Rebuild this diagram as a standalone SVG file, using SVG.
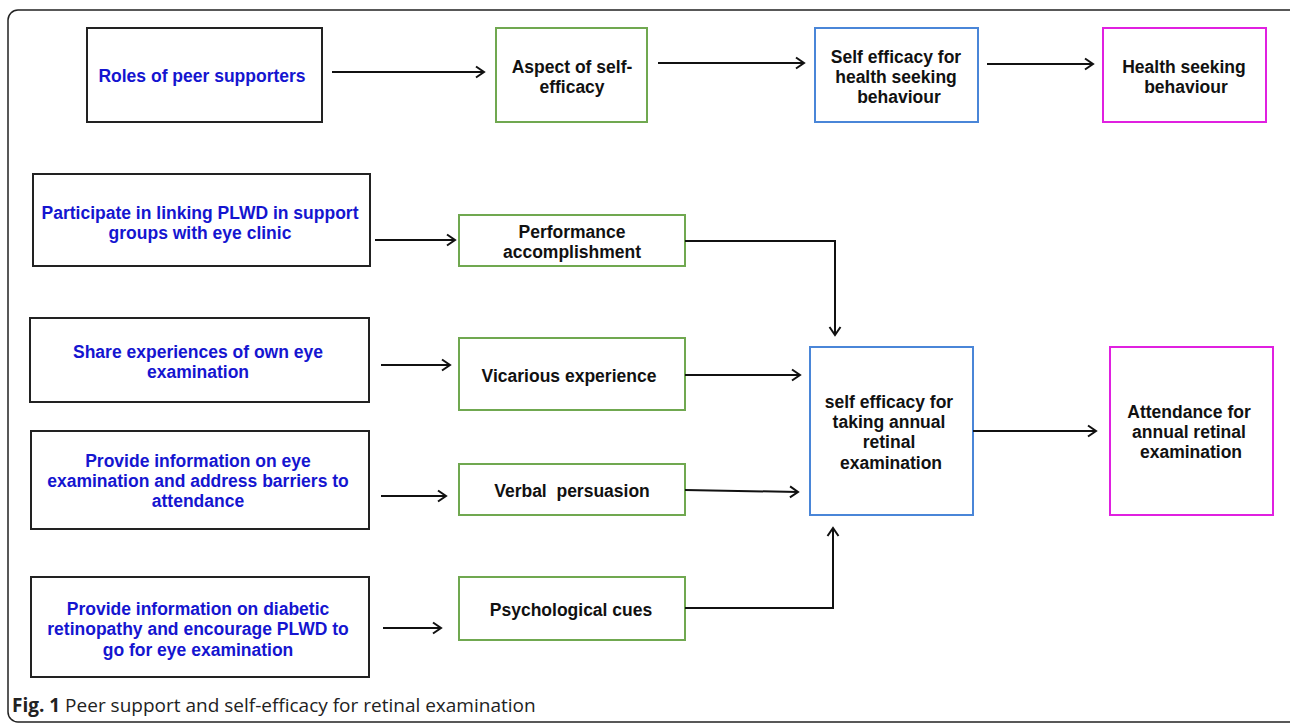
<svg xmlns="http://www.w3.org/2000/svg" width="1290" height="724" viewBox="0 0 1290 724">
<style>
.box{fill:#fff;stroke-width:2}
.k{stroke:#222}
.g{stroke:#70a850}
.b{stroke:#4a86d8}
.m{stroke:#e020e0}
text{font-family:"Liberation Sans",Arial,sans-serif;font-weight:bold;font-size:17.5px;text-anchor:middle}
.blue{fill:#1515d0}
.blk{fill:#111}
.con{fill:none;stroke:#111;stroke-width:2}
.cap{font-family:"Open Sans","Liberation Sans",sans-serif;font-weight:normal;font-size:19px;text-anchor:start;fill:#222}
</style>
<defs>
<marker id="ah" markerWidth="14" markerHeight="14" refX="11" refY="7" orient="auto" markerUnits="userSpaceOnUse">
<path d="M3,1.5 L11,7 L3,12.5" fill="none" stroke="#111" stroke-width="2"/>
</marker>
</defs>
<rect x="8" y="10" width="1300" height="712" rx="10" fill="#fff" stroke="#222" stroke-width="1.5"/>
<g id="n-roles"><rect class="box k" x="87" y="28" width="235" height="94"/><text class="blue" x="202" y="82">Roles of peer supporters</text></g>
<g id="n-aspect"><rect class="box g" x="496" y="28" width="151" height="94"/><text class="blk" x="572" y="73">Aspect of self-</text><text class="blk" x="572" y="93">efficacy</text></g>
<g id="n-sehsb"><rect class="box b" x="815" y="28" width="163" height="94"/><text class="blk" x="896" y="63">Self efficacy for</text><text class="blk" x="896" y="83">health seeking</text><text class="blk" x="899" y="103">behaviour</text></g>
<g id="n-hsb"><rect class="box m" x="1103" y="28" width="163" height="94"/><text class="blk" x="1184" y="73">Health seeking</text><text class="blk" x="1186" y="93">behaviour</text></g>

<g id="n-participate"><rect class="box k" x="33" y="174" width="337" height="92"/><text class="blue" x="200" y="219">Participate in linking PLWD in support</text><text class="blue" x="200" y="239">groups with eye clinic</text></g>
<g id="n-share"><rect class="box k" x="30" y="318" width="339" height="84"/><text class="blue" x="198" y="358">Share experiences of own eye</text><text class="blue" x="198" y="378">examination</text></g>
<g id="n-provide1"><rect class="box k" x="31" y="431" width="338" height="98"/><text class="blue" x="198" y="467">Provide information on eye</text><text class="blue" x="198" y="487">examination and address barriers to</text><text class="blue" x="198" y="507">attendance</text></g>
<g id="n-provide2"><rect class="box k" x="31" y="577" width="338" height="100"/><text class="blue" x="198" y="615">Provide information on diabetic</text><text class="blue" x="198" y="635">retinopathy and encourage PLWD to</text><text class="blue" x="198" y="656">go for eye examination</text></g>

<g id="n-perf"><rect class="box g" x="459" y="215" width="226" height="51"/><text class="blk" x="572" y="238">Performance</text><text class="blk" x="572" y="258">accomplishment</text></g>
<g id="n-vic"><rect class="box g" x="459" y="338" width="226" height="72"/><text class="blk" x="569" y="382">Vicarious experience</text></g>
<g id="n-verbal"><rect class="box g" x="459" y="464" width="226" height="51"/><text class="blk" x="572" y="497" xml:space="preserve">Verbal  persuasion</text></g>
<g id="n-psych"><rect class="box g" x="459" y="577" width="226" height="63"/><text class="blk" x="571" y="616">Psychological cues</text></g>

<g id="n-setare"><rect class="box b" x="810" y="347" width="163" height="168"/><text class="blk" x="889" y="408">self efficacy for</text><text class="blk" x="889" y="428">taking annual</text><text class="blk" x="889" y="448">retinal</text><text class="blk" x="891" y="469">examination</text></g>
<g id="n-attend"><rect class="box m" x="1110" y="347" width="163" height="168"/><text class="blk" x="1189" y="418">Attendance for</text><text class="blk" x="1189" y="438">annual retinal</text><text class="blk" x="1191" y="458">examination</text></g>

<g id="connectors">
<path class="con" d="M332,72 H484" marker-end="url(#ah)"/>
<path class="con" d="M658,63 H804" marker-end="url(#ah)"/>
<path class="con" d="M987,64 H1093" marker-end="url(#ah)"/>
<path class="con" d="M375,240 H455" marker-end="url(#ah)"/>
<path class="con" d="M381,365 H450" marker-end="url(#ah)"/>
<path class="con" d="M381,496 H446" marker-end="url(#ah)"/>
<path class="con" d="M383,628 H441" marker-end="url(#ah)"/>
<path class="con" d="M685,241 H835 V335" marker-end="url(#ah)"/>
<path class="con" d="M685,375 H800" marker-end="url(#ah)"/>
<path class="con" d="M685,490 L798,492" marker-end="url(#ah)"/>
<path class="con" d="M685,608 H833 V528" marker-end="url(#ah)"/>
<path class="con" d="M973,431 H1096" marker-end="url(#ah)"/>
</g>
<text class="cap" x="12" y="712"><tspan font-weight="bold">Fig. 1</tspan> Peer support and self-efficacy for retinal examination</text>
</svg>
